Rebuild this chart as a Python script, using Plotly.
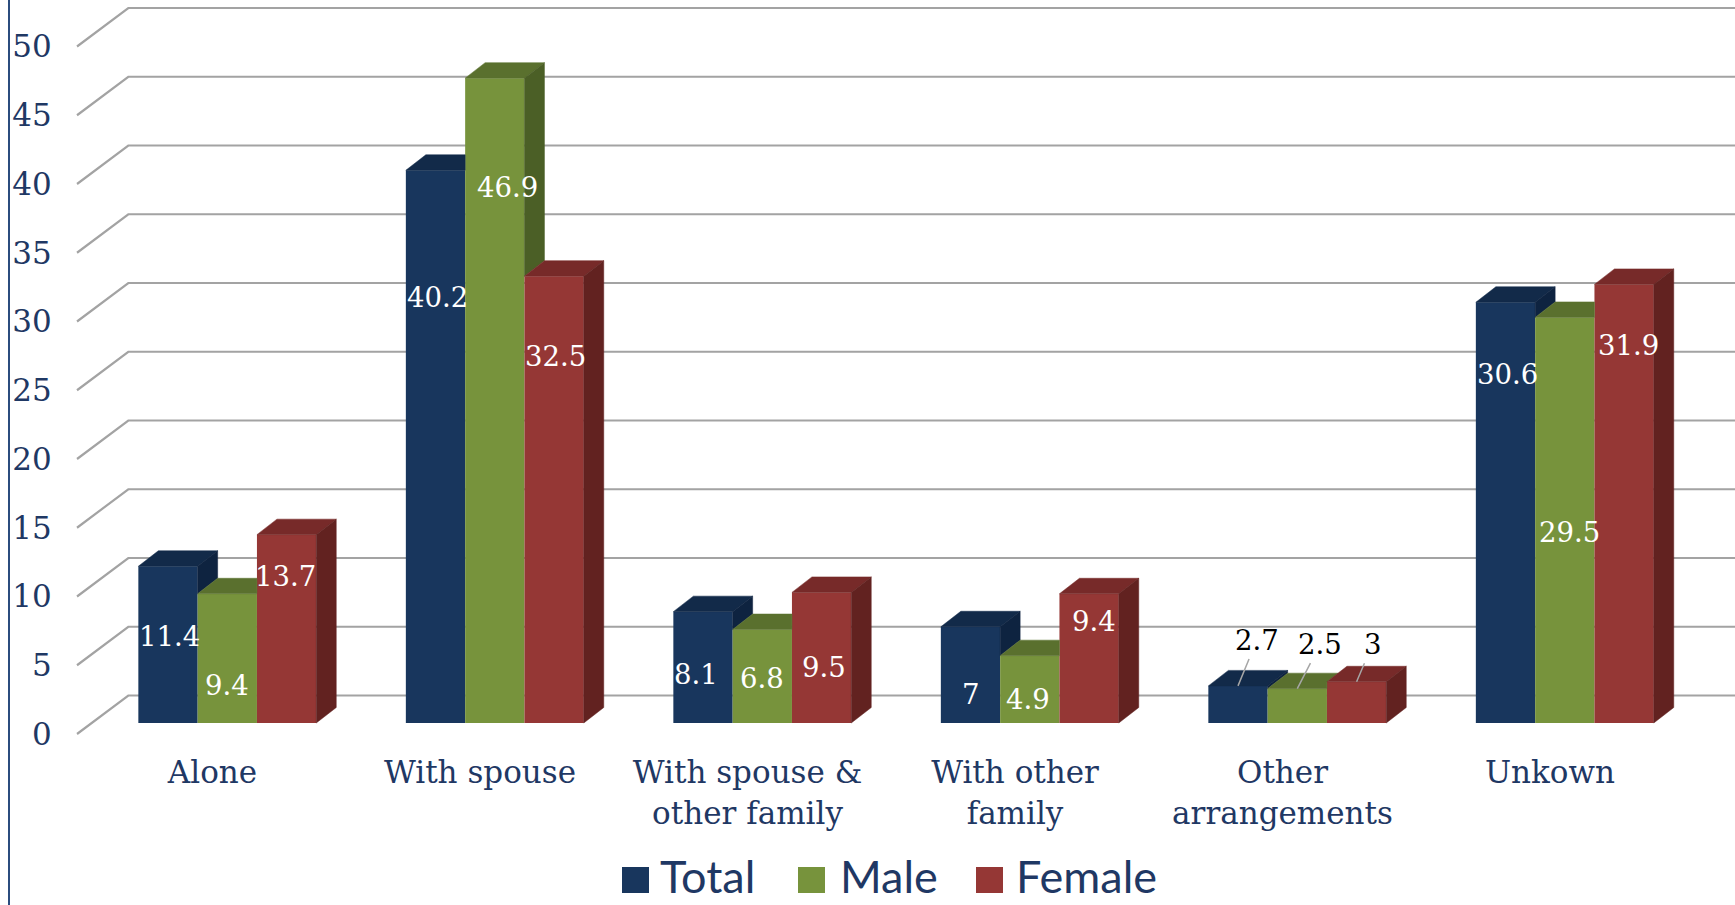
import plotly.graph_objects as go

# ---------------- data ----------------
categories = ["Alone", "With spouse", "With spouse &<br>other family",
              "With other<br>family", "Other<br>arrangements", "Unkown"]
series_names = ["Total", "Male", "Female"]
total = [11.4, 40.2, 8.1, 7, 2.7, 30.6]
male = [9.4, 46.9, 6.8, 4.9, 2.5, 29.5]
female = [13.7, 32.5, 9.5, 9.4, 3, 31.9]
y_ticks = [0, 5, 10, 15, 20, 25, 30, 35, 40, 45, 50]

# label anchor heights (in value units)
total_label_y = [6.3, 31.0, 3.6, 2.1, 6.05, 25.4]
male_label_y = [2.75, 38.95, 3.25, 1.75, 5.75, 13.9]
female_label_y = [10.7, 26.7, 4.05, 7.45, 5.75, 27.5]
# small horizontal nudges of labels (px)
total_label_dx = [1, 2, -7, 0, 19, 2]
male_label_dx = [0, 13, 0, -2, 23, 5]
female_label_dx = [-1, 1, 2, 5, 16, 4]

# ---------------- styling / geometry ----------------
front_cols = ["#18365D", "#77933C", "#953735"]
top_cols = ["#122A49", "#5A702E", "#772A29"]
side_cols = ["#0E2340", "#4B5F26", "#622220"]
text_col = "#1F3864"
grid_col = "#A3A3A3"
SERIF = "DejaVu Serif"

FIG_W, FIG_H = 1735, 905
M_L, M_R, M_T, M_B = 70, 0, 0, 160
PLOT_W, PLOT_H = FIG_W - M_L - M_R, FIG_H - M_T - M_B

PX_X = 267.5        # px per category
PX_Y = 13.75        # px per value unit
W = 59.3 / PX_X     # bar width
SHIFT = 14.8 / PX_X # bars sit mid-depth: shifted right of the front floor edge
DX = 20 / PX_X      # bar depth (x)
DY = 15.5 / PX_Y    # bar depth (y)
GX0 = -0.5065       # front-left corner of floor grid
GDX = 51.3 / PX_X   # wall depth
GDY = 38.5 / PX_Y
XMIN, XMAX = -0.53271, 5.69159
Y1 = [-0.8, 53.382]     # front floor coordinates (tick labels)
Y2 = [-1.6, 52.582]     # bar coordinates


def px2paper_x(p):
    return (p - M_L) / PLOT_W


def px2paper_y(p):
    return (M_T + PLOT_H - p) / PLOT_H


fig = go.Figure()

# gridlines (back wall + floor diagonal)
gx, gy = [], []
for t in y_ticks:
    gx += [GX0, GX0 + GDX, XMAX + 0.1, None]
    gy += [t, t + GDY, t + GDY, None]
fig.add_trace(go.Scatter(x=gx, y=gy, mode="lines", line=dict(color=grid_col, width=2.2),
                         showlegend=False, hoverinfo="skip", yaxis="y"))

series = [total, male, female]
label_ys = [total_label_y, male_label_y, female_label_y]
label_dxs = [total_label_dx, male_label_dx, female_label_dx]
n = len(categories)

annotations = []
for j, vals in enumerate(series):
    xs = [i + SHIFT + (j - 1) * W for i in range(n)]
    fig.add_trace(go.Bar(x=xs, y=vals, width=W, yaxis="y2", name=series_names[j],
                         showlegend=False,
                         marker=dict(color=front_cols[j], line=dict(width=0)),
                         hoverinfo="skip"))
    tx, ty, sx, sy = [], [], [], []
    for i in range(n):
        x0, x1, h = xs[i] - W / 2, xs[i] + W / 2, vals[i]
        hr = series[j + 1][i] if j < 2 else None
        if hr is None or hr < h:
            tx += [x0, x1, x1 + DX, x0 + DX, x0, None]
            ty += [h, h, h + DY, h + DY, h, None]
            base = 0 if hr is None else hr
            sx += [x1, x1 + DX, x1 + DX, x1, x1, None]
            sy += [base, base + DY, h + DY, h, base, None]
        else:
            r = min((hr - h) / DY, 1.0)
            tx += [x0, x1, x1, x1 + DX * (1 - r), x0 + DX, x0, None]
            ty += [h, h, h + r * DY, h + DY, h + DY, h, None]
    fig.add_trace(go.Scatter(x=tx, y=ty, fill="toself", fillcolor=top_cols[j], mode="lines",
                             line=dict(width=0.5, color=top_cols[j]), yaxis="y2",
                             showlegend=False, hoverinfo="skip"))
    if sx:
        fig.add_trace(go.Scatter(x=sx, y=sy, fill="toself", fillcolor=side_cols[j], mode="lines",
                                 line=dict(width=0.5, color=side_cols[j]), yaxis="y2",
                                 showlegend=False, hoverinfo="skip"))
    # data labels
    for i in range(n):
        v = vals[i]
        ly = label_ys[j][i]
        above = ly > v
        txt = f"{v:g}"
        if above:
            annotations.append(dict(x=xs[i], y=v, xref="x", yref="y2",
                                    ax=xs[i] + label_dxs[j][i] / PX_X, ay=ly,
                                    axref="x", ayref="y2", text=txt, showarrow=True,
                                    arrowhead=0, arrowwidth=1.5, arrowcolor="#A6A6A6",
                                    startstandoff=3, borderpad=0,
                                    font=dict(family=SERIF, size=27.5, color="black")))
        else:
            annotations.append(dict(x=xs[i], y=ly, xref="x", yref="y2", text=txt,
                                    showarrow=False, xshift=label_dxs[j][i],
                                    font=dict(family=SERIF, size=27.5, color="white")))

# legend (drawn manually so it can sit at the very bottom edge like the original)
legend_swatch_px = [622, 798, 976]
legend_text_px = [659, 839, 1015]
SW = 27
LEG_TOP, LEG_BOT, LEG_MID = 867, 893, 876
shapes = [dict(type="line", xref="paper", yref="paper", x0=px2paper_x(9), x1=px2paper_x(9),
               y0=px2paper_y(FIG_H), y1=1.0, line=dict(color="#2B4C7E", width=2))]
for k, name in enumerate(series_names):
    shapes.append(dict(type="rect", xref="paper", yref="paper",
                       x0=px2paper_x(legend_swatch_px[k]), x1=px2paper_x(legend_swatch_px[k] + SW),
                       y0=px2paper_y(LEG_BOT), y1=px2paper_y(LEG_TOP),
                       fillcolor=front_cols[k], line=dict(width=0)))
    annotations.append(dict(x=px2paper_x(legend_text_px[k]), y=px2paper_y(LEG_MID),
                            xref="paper", yref="paper", xanchor="left", yanchor="middle",
                            text=name, showarrow=False, borderpad=0,
                            font=dict(family="Lato", size=45, color=text_col)))

fig.update_layout(
    width=FIG_W, height=FIG_H,
    margin=dict(l=M_L, r=M_R, t=M_T, b=M_B),
    paper_bgcolor="white", plot_bgcolor="white",
    barmode="overlay",
    showlegend=False,
    xaxis=dict(range=[XMIN, XMAX], tickvals=list(range(n)), ticktext=categories,
               tickfont=dict(family=SERIF, size=31, color=text_col),
               ticks="outside", ticklen=0, tickcolor="rgba(0,0,0,0)",
               showgrid=False, zeroline=False, showline=False),
    yaxis=dict(range=Y1, tickvals=y_ticks, ticktext=[str(t) for t in y_ticks],
               tickfont=dict(family=SERIF, size=31, color=text_col),
               ticks="outside", ticklen=11, tickcolor="rgba(0,0,0,0)",
               showgrid=False, zeroline=False, showline=False),
    yaxis2=dict(range=Y2, overlaying="y", visible=False, showgrid=False, zeroline=False),
    annotations=annotations,
    shapes=shapes,
)

fig.write_html("out.html", config={"displayModeBar": False},
               post_script="document.body.style.margin='0px';")
